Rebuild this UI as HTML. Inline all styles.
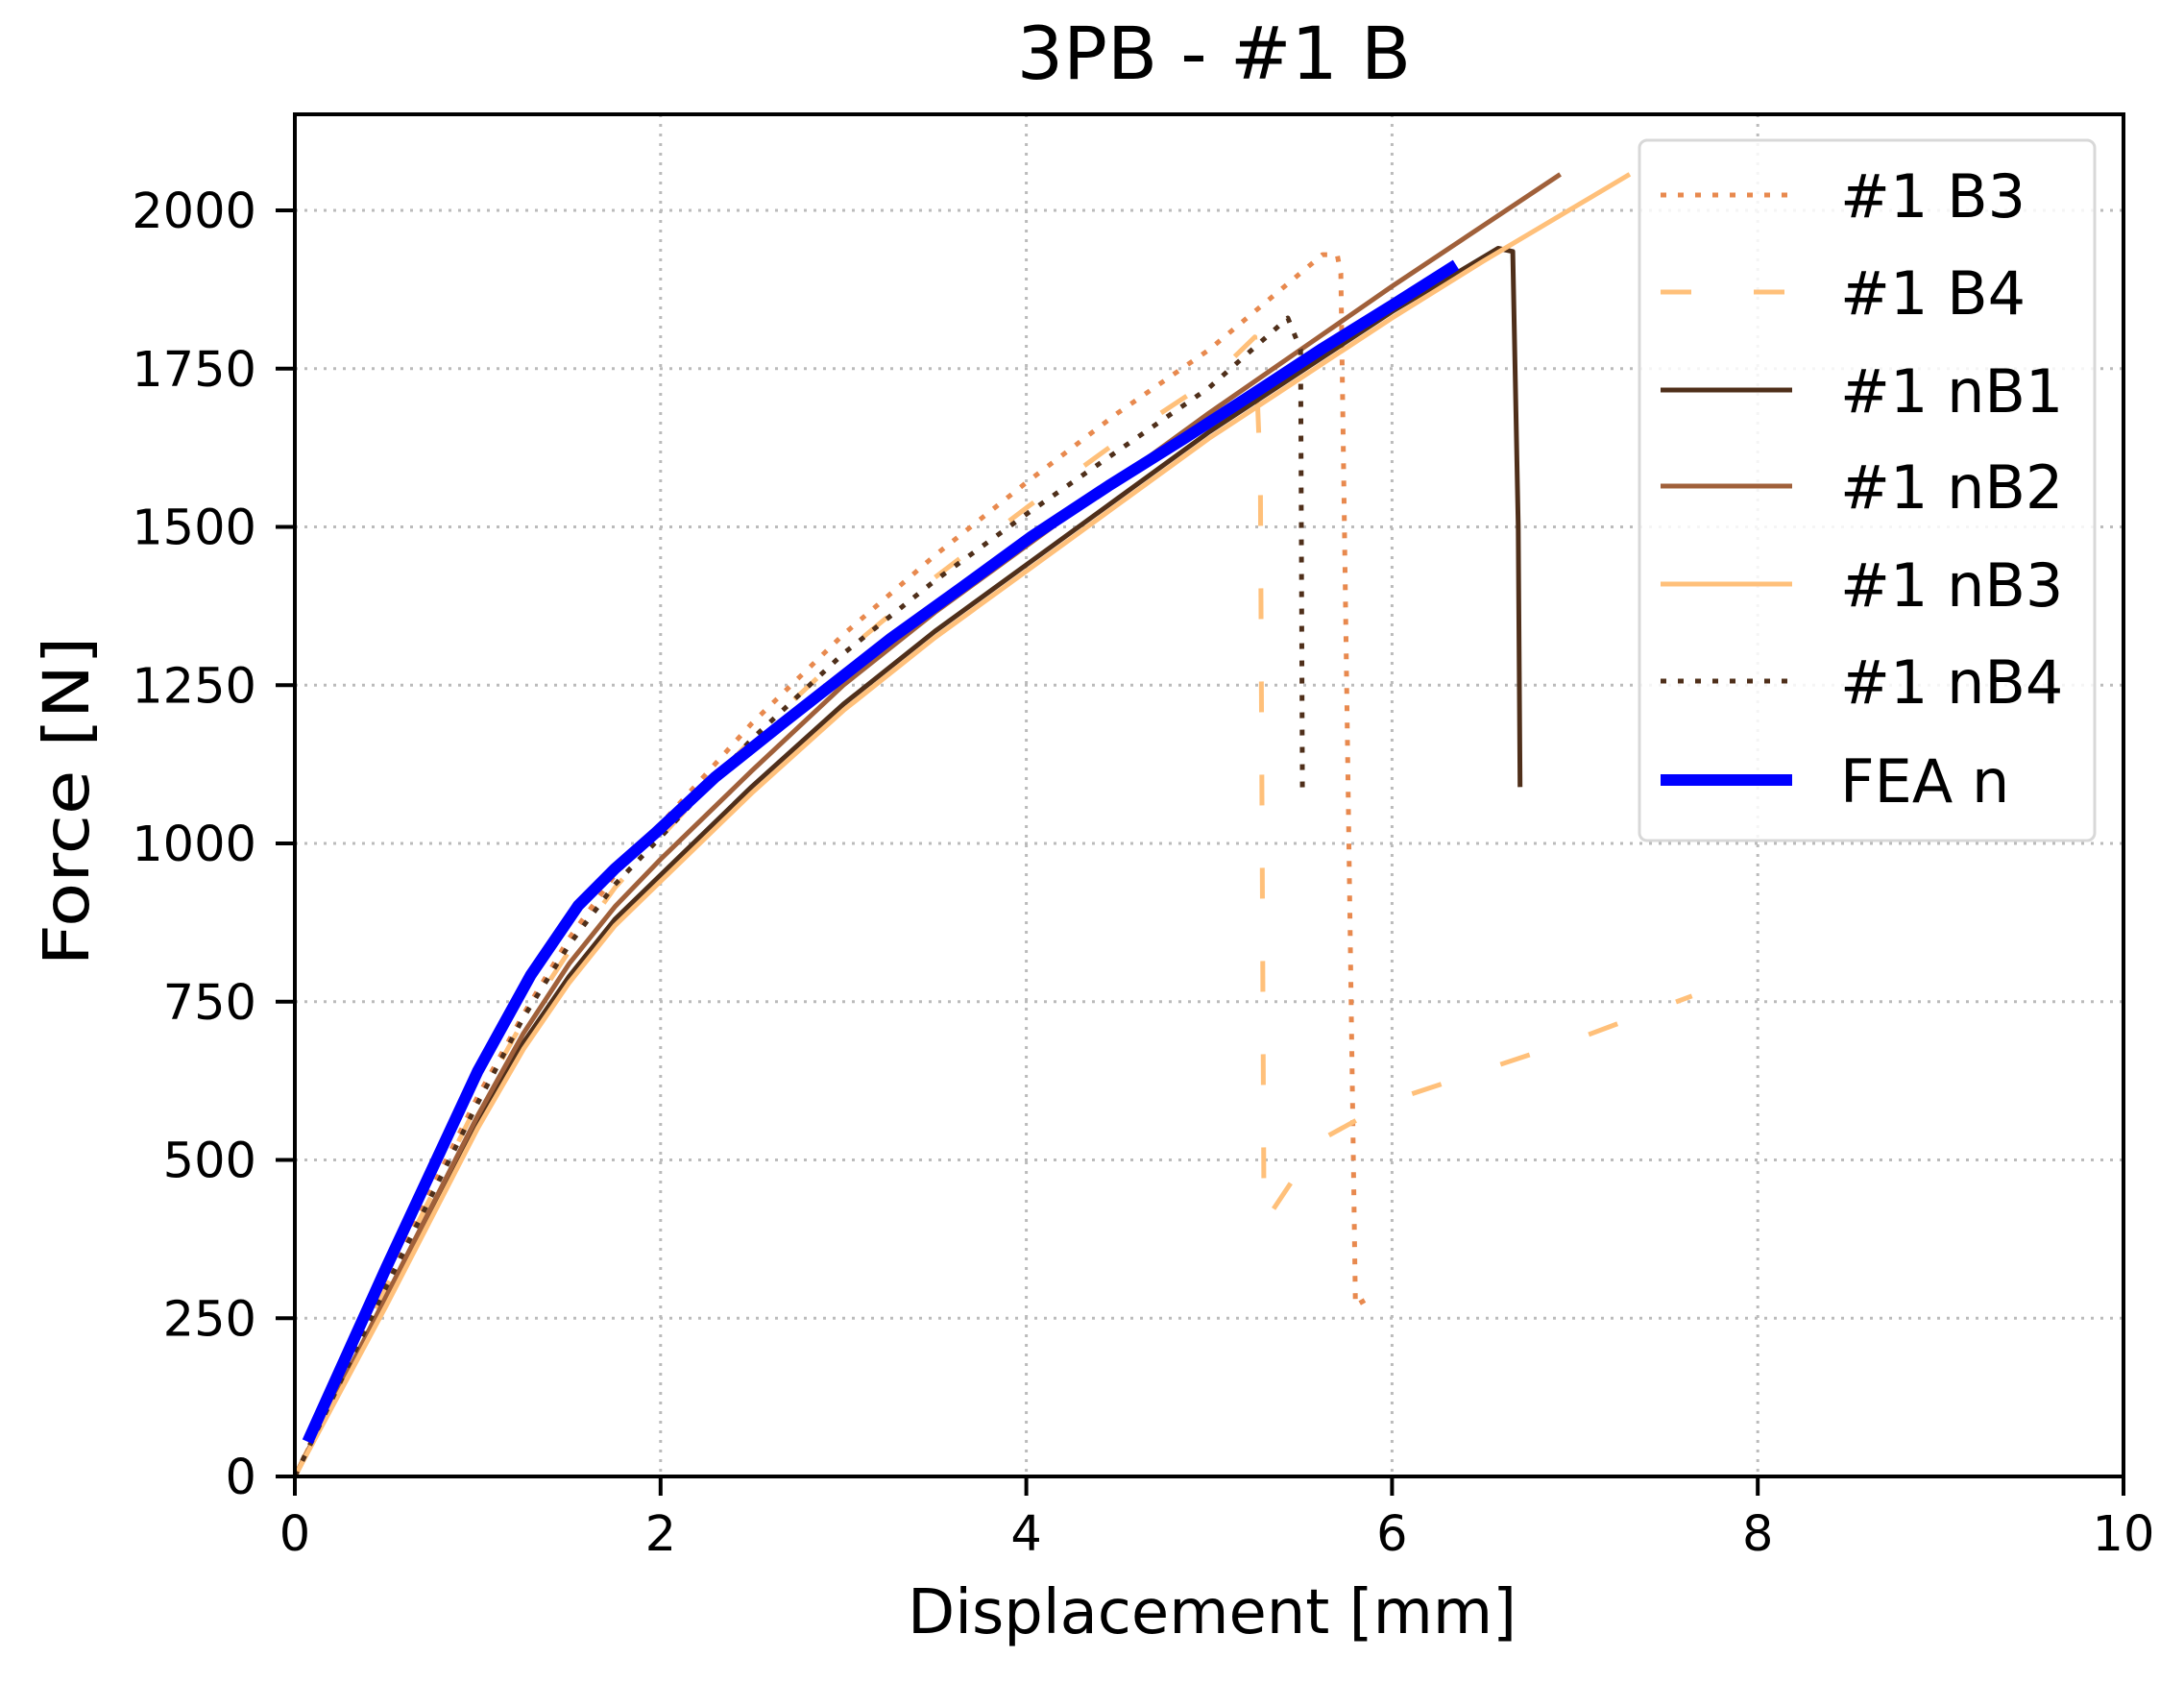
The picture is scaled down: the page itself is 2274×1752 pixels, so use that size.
<!DOCTYPE html>
<html><head><meta charset="utf-8"><style>
html,body{margin:0;padding:0;background:#fff;}
svg{display:block;font-family:"DejaVu Sans","Liberation Sans",sans-serif;}
</style></head><body>
<svg id="chart" width="2274" height="1752" viewBox="0 0 2274 1752" xmlns="http://www.w3.org/2000/svg">
<rect width="2274" height="1752" fill="#fff"/>
<g id="grid"></g>
<g id="series"></g>
<g id="axes"></g>
<text x="1264" y="82" font-size="76" text-anchor="middle" fill="#000">3PB - #1 B</text>
<text x="1262" y="1700" font-size="64" text-anchor="middle" textLength="634" lengthAdjust="spacingAndGlyphs" fill="#000">Displacement [mm]</text>
<text transform="translate(92,834) rotate(-90)" font-size="66" text-anchor="middle" textLength="343" lengthAdjust="spacingAndGlyphs" fill="#000">Force [N]</text>
<g id="legend"></g>
</svg>
<script>
const xTicks = [0, 2, 4, 6, 8, 10];
const yTicks = [0, 250, 500, 750, 1000, 1250, 1500, 1750, 2000];
const seriesNames = ["#1 B3", "#1 B4", "#1 nB1", "#1 nB2", "#1 nB3", "#1 nB4", "FEA n"];
const b3X = [0, 0.5, 1, 1.25, 1.5, 1.75, 2, 2.5, 3, 3.5, 4, 4.5, 5, 5.62, 5.7, 5.72, 5.8, 5.89];
const b3Y = [0, 310, 600, 730, 850, 950, 1030, 1190, 1330, 1455, 1570, 1680, 1780, 1930, 1930, 1900, 270, 285];
const b4X = [0, 0.5, 1, 1.25, 1.5, 1.75, 2, 2.5, 3, 3.5, 4, 4.5, 5, 5.25, 5.28, 5.3, 5.6, 6.0, 7.0, 7.64];
const b4Y = [0, 300, 590, 720, 830, 930, 1010, 1165, 1300, 1420, 1530, 1635, 1730, 1800, 1585, 400, 530, 594, 690, 759];
const nb1X = [0, 0.5, 1, 1.25, 1.5, 1.75, 2, 2.5, 3, 3.5, 4, 4.5, 5, 5.5, 6, 6.58, 6.66, 6.69, 6.70];
const nb1Y = [0, 280, 560, 685, 790, 880, 950, 1090, 1220, 1335, 1440, 1545, 1650, 1745, 1840, 1940, 1935, 1500, 1089];
const nb2X = [0, 0.5, 1, 1.25, 1.5, 1.75, 2, 2.5, 3, 3.5, 4, 4.5, 5, 5.5, 6, 6.92];
const nb2Y = [0, 285, 570, 700, 810, 900, 975, 1115, 1250, 1365, 1470, 1575, 1680, 1780, 1880, 2057];
const nb3X = [0, 0.5, 1, 1.25, 1.5, 1.75, 2, 2.5, 3, 3.5, 4, 4.5, 5, 5.5, 6, 6.5, 7.3];
const nb3Y = [0, 270, 550, 675, 780, 870, 940, 1080, 1210, 1325, 1430, 1535, 1640, 1735, 1830, 1920, 2057];
const nb4X = [0, 0.5, 1, 1.25, 1.5, 1.75, 2, 2.5, 3, 3.5, 4, 4.5, 5, 5.43, 5.5, 5.51];
const nb4Y = [0, 300, 590, 725, 840, 935, 1010, 1165, 1300, 1415, 1520, 1620, 1720, 1830, 1780, 1078];
const feaX = [0.07, 0.5, 1.0, 1.29, 1.55, 1.75, 1.97, 2.3, 2.66, 3.0, 3.26, 3.65, 4.03, 4.45, 4.86, 5.25, 5.62, 6.0, 6.35];
const feaY = [55, 330, 640, 792, 902, 960, 1016, 1105, 1188, 1265, 1324, 1405, 1485, 1565, 1639, 1712, 1782, 1850, 1914];

const NS = "http://www.w3.org/2000/svg";
const X0 = 307, X1 = 2211, YB = 1537, YT = 119;
const xMax = 10, yMax = (YB - YT) / 0.659;
const sx = v => X0 + (v / xMax) * (X1 - X0);
const sy = v => YB - (v / yMax) * (YB - YT);
function mk(tag, attrs, parent) {
  const e = document.createElementNS(NS, tag);
  for (const k in attrs) e.setAttribute(k, attrs[k]);
  parent.appendChild(e);
  return e;
}
const grid = document.getElementById("grid");
const axes = document.getElementById("axes");
xTicks.forEach(t => {
  if (t > 0 && t < xMax) {
    const g = mk("line", {x1: sx(t), x2: sx(t), y1: YT, y2: YB, stroke: "#bbbbbb", "stroke-width": 3, "stroke-dasharray": "3 7"}, grid);
    
    
  }
  const tk = mk("line", {x1: sx(t), x2: sx(t), y1: YB, y2: YB + 20, stroke: "#000", "stroke-width": 4}, axes);
  
  
  const lb = mk("text", {x: sx(t), y: 1614, "font-size": 51, "text-anchor": "middle", fill: "#000"}, axes);
  lb.textContent = t;
  
  
});
yTicks.forEach(t => {
  if (t > 0) {
    const g = mk("line", {x1: X0, x2: X1, y1: sy(t), y2: sy(t), stroke: "#bbbbbb", "stroke-width": 3, "stroke-dasharray": "3 7"}, grid);
    
    
  }
  const tk = mk("line", {x1: X0 - 20, x2: X0, y1: sy(t), y2: sy(t), stroke: "#000", "stroke-width": 4}, axes);
  
  
  const lb = mk("text", {x: 267, y: sy(t) + 18, "font-size": 51, "text-anchor": "end", fill: "#000"}, axes);
  lb.textContent = t;
  
  
});
const frame = mk("rect", {x: X0, y: YT, width: X1 - X0, height: YB - YT, fill: "none", stroke: "#000", "stroke-width": 4}, axes);



const styles = [
  {xs: b3X, ys: b3Y, color: "#e8894e", w: 5, dash: "6 12", name: "series-b3"},
  {xs: b4X, ys: b4Y, color: "#ffc07a", w: 5, dash: "32 65", name: "series-b4"},
  {xs: nb1X, ys: nb1Y, color: "#4f2f1a", w: 5, dash: "", name: "series-nb1"},
  {xs: nb2X, ys: nb2Y, color: "#a0603a", w: 5, dash: "", name: "series-nb2"},
  {xs: nb3X, ys: nb3Y, color: "#ffc07a", w: 5, dash: "", name: "series-nb3"},
  {xs: nb4X, ys: nb4Y, color: "#4f2f1a", w: 5, dash: "6 12", name: "series-nb4"},
  {xs: feaX, ys: feaY, color: "#0000ff", w: 12, dash: "", name: "series-fea"}
];
const sg = document.getElementById("series");
const clip = mk("clipPath", {id: "plotclip"}, sg);
mk("rect", {x: X0, y: YT, width: X1 - X0, height: YB - YT}, clip);
styles.forEach(s => {
  const pts = s.xs.map((x, i) => sx(x).toFixed(1) + "," + sy(s.ys[i]).toFixed(1)).join(" ");
  const attrs = {points: pts, fill: "none", stroke: s.color, "stroke-width": s.w, "stroke-linejoin": "round", "clip-path": "url(#plotclip)"};
  if (s.dash) attrs["stroke-dasharray"] = s.dash;
  const p = mk("polyline", attrs, sg);
  
  
});

const lg = document.getElementById("legend");
const box = mk("rect", {x: 1707, y: 146, width: 474, height: 729, rx: 8, fill: "#fff", "fill-opacity": 0.85, stroke: "#d8d8d8", "stroke-width": 3}, lg);


const rowY = [203, 304, 406, 506, 608, 709, 812];
styles.forEach((s, i) => {
  const a = {x1: 1729, x2: 1866, y1: rowY[i], y2: rowY[i], stroke: s.color, "stroke-width": s.w};
  if (s.dash) a["stroke-dasharray"] = s.dash;
  const l = mk("line", a, lg);
  
  
  const t = mk("text", {x: 1916, y: rowY[i] + 23, "font-size": 62, fill: "#000"}, lg);
  t.textContent = seriesNames[i];
  
  
});
</script>
</body></html>
